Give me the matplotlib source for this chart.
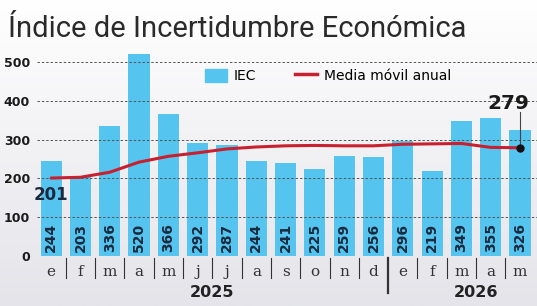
import numpy as np
import matplotlib.pyplot as plt
from matplotlib.lines import Line2D

# datos
meses = ['e', 'f', 'm', 'a', 'm', 'j', 'j', 'a', 's', 'o', 'n', 'd',
         'e', 'f', 'm', 'a', 'm']
iec = [244, 203, 336, 520, 366, 292, 287, 244, 241, 225, 259, 256,
       296, 219, 349, 355, 326]
media_movil = [201, 203, 216, 242, 257, 266, 276, 281, 284, 285, 284, 284,
               288, 289, 290, 280, 279]
anios = ['2025', '2026']
yticks = [0, 100, 200, 300, 400, 500]

azul = '#55c4ef'
rojo = '#c8202f'
navy = '#1b2a3e'

fig = plt.figure(figsize=(5.37, 3.06), dpi=100)

# fondo degradado
bg = fig.add_axes([0, 0, 1, 1], zorder=-10)
grad = np.linspace(0, 1, 256).reshape(-1, 1)
bg.imshow(grad, aspect='auto', cmap=plt.matplotlib.colors.LinearSegmentedColormap.from_list(
    'g', ['#ffffff', '#f1f1f4', '#e4e4ea']), extent=[0, 1, 0, 1])
bg.axis('off')

ax = fig.add_axes([0.069, 0.163, 0.931, 0.674])
ax.patch.set_alpha(0)
x = np.arange(len(iec))

ax.bar(x, iec, width=0.72, color=azul, zorder=2)
for i, v in enumerate(iec):
    ax.text(i, 10, str(v), rotation=90, ha='center', va='bottom',
            fontsize=10, fontweight='bold', color=navy, zorder=5)

for y in yticks[1:]:
    ax.axhline(y, color='#555555', lw=0.7, ls=(0, (2.5, 2)), zorder=3)

ax.plot(x, media_movil, color=rojo, lw=2.2, zorder=4, solid_capstyle='round')
ax.plot(x[-1], media_movil[-1], 'o', color='#111111', ms=5, zorder=6)

ax.text(0, 158, str(media_movil[0]), ha='center', va='center', fontsize=12,
        fontweight='bold', color=navy, zorder=6)
ax.plot([x[-1], x[-1]], [media_movil[-1], 370], color='#444444', lw=0.8, zorder=5)
ax.text(x[-1] - 0.4, 368, str(media_movil[-1]), ha='center', va='bottom',
        fontsize=14.5, fontweight='bold', color='#1a1a1a', zorder=6)

ax.set_xlim(-0.48, 16.58)
ax.set_ylim(0, 531)
ax.set_yticks(yticks)
ax.set_yticklabels([str(t) for t in yticks], fontsize=9, fontweight='bold', color='#1a1a1a')
ax.tick_params(axis='y', length=0, pad=5)
ax.set_xticks([])
for s in ax.spines.values():
    s.set_visible(False)

# etiquetas de meses y separadores
for i, m in enumerate(meses):
    ax.text(i, -42, m, ha='center', va='center', fontsize=11, color='#333333',
            family='DejaVu Serif', clip_on=False)
for i in range(len(meses) - 1):
    big = (i == 11)
    ax.plot([i + 0.5, i + 0.5], [-5, -95 if big else -57], color='#333333',
            lw=1.6 if big else 0.8, clip_on=False)
ax.text(5.5, -93, anios[0], ha='center', va='center', fontsize=11.5,
        fontweight='bold', color='#222222', clip_on=False)
ax.text(14.5, -93, anios[1], ha='center', va='center', fontsize=11.5,
        fontweight='bold', color='#222222', clip_on=False)

# leyenda
handles = [plt.Rectangle((0, 0), 1, 1, color=azul),
           Line2D([0], [0], color=rojo, lw=2.5)]
ax.legend(handles, ['IEC', 'Media móvil anual'], loc='upper left',
          bbox_to_anchor=(0.31, 0.97), ncol=2, frameon=False, fontsize=10,
          handlelength=1.6, handleheight=1.1, columnspacing=2.8, handletextpad=0.5)

fig.text(0.015, 0.905, 'Índice de Incertidumbre Económica', fontsize=21,
         family=['Roboto', 'DejaVu Sans'], weight='normal', color='#2a2a2a',
         va='center', ha='left')

fig.savefig('out.png', dpi=100)
